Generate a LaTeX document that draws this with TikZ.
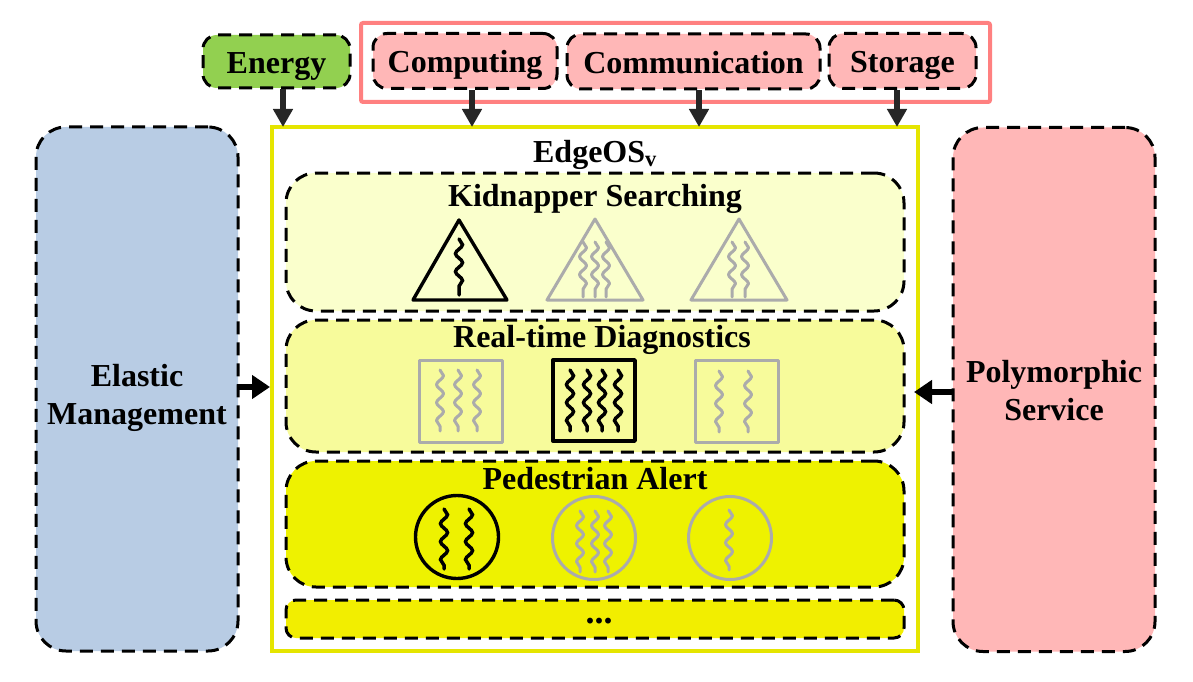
\documentclass[tikz,border=0pt]{standalone}
\usepackage{fontspec}
\setmainfont{Liberation Serif}
\usepackage{tikz}
\usetikzlibrary{arrows.meta, positioning, calc, decorations.pathmorphing}

\definecolor{energygreen}{HTML}{92D050}
\definecolor{respink}{HTML}{FFB7B7}
\definecolor{resred}{HTML}{FF8080}
\definecolor{elasticblue}{HTML}{B8CCE4}
\definecolor{osyellow}{HTML}{E5E500}
\definecolor{panelA}{HTML}{FAFFCC}
\definecolor{panelB}{HTML}{F7FB9B}
\definecolor{panelC}{HTML}{EEF200}
\definecolor{panelD}{HTML}{F2EE00}
\definecolor{taskgrey}{HTML}{ABABAB}
\definecolor{arrowdark}{HTML}{262626}

\begin{document}
\begin{tikzpicture}[
    x=1pt, y=-1pt,
    every node/.style={font=\fontsize{32}{36}\selectfont\bfseries, align=center, inner sep=0pt},
    caption/.style={text height=31pt, text depth=7pt},
    dashbox/.style={draw, rounded corners=#1, line width=3pt, dash pattern=on 13pt off 8pt},
    dashbox/.default=14pt,
    resource/.style={dashbox, fill=respink, caption},
    side/.style={dashbox=30pt, minimum width=202pt, minimum height=524pt},
    panel/.style={dashbox=30pt, minimum width=618pt},
    link/.style={draw=arrowdark, line width=6pt, shorten >=-2pt, -{Triangle[length=18pt, width=19pt]}},
    sidelink/.style={draw=black, line width=5.5pt, -{Triangle[length=18pt, width=23pt]}},
    taskblack/.style={draw=black, line width=3.4pt, line join=round},
    taskgrey/.style={draw=taskgrey, line width=3pt, line join=round},
    thread/.style={line width=3.5pt, line cap=round, decorate,
        decoration={snake, segment length=18pt, amplitude=3.5pt}}
]
    \useasboundingbox (0,0) rectangle (1193,682);

    % top row
    \node[draw=resred, line width=4pt, rounded corners=2pt, minimum width=629pt, minimum height=79pt] (res) at (675.5,62.5) {};
    \node[dashbox, fill=energygreen, caption, minimum width=147pt, minimum height=53pt] (energy) at (276.5,61.5) {Energy};
    \node[resource, minimum width=184pt, minimum height=55pt] (comp) at (465,61) {Computing};
    \node[resource, minimum width=253pt, minimum height=55pt] (comm) at (693.5,61.5) {Communication};
    \node[resource, minimum width=147pt, minimum height=55pt] (stor) at (902.5,61) {Storage};

    % side blocks
    \node[side, fill=elasticblue] (elastic) at (137,389) {};
    \node[side, fill=respink] (poly) at (1054,389.5) {};
    \node (elastictext) at (137,398) {Elastic\\[2pt]Management};
    \node (polytext) at (1054,390.5) {Polymorphic\\[2pt]Service};

    % EdgeOS box and its panels
    \node[draw=osyellow, line width=4pt, minimum width=646pt, minimum height=524pt] (os) at (595,389) {};
    \node[caption] (ostitle) at (595,150.5) {EdgeOS\textsubscript{v}};
    \node[panel, fill=panelA, minimum height=138pt] (kid) at (595,242) {};
    \node[panel, fill=panelB, minimum height=132pt] (diag) at (595,386) {};
    \node[panel, fill=panelC, minimum height=126pt] (ped) at (595,524) {};
    \node[panel, fill=panelD, minimum height=38pt, dashbox=10pt] (more) at (595,619) {};
    \node[caption] (kidtitle) at (595,194.5) {Kidnapper Searching};
    \node[caption] (diagtitle) at (602,335.5) {Real-time Diagnostics};
    \node[caption] (pedtitle) at (595,477.5) {Pedestrian Alert};
    \node[caption, font=\fontsize{36}{40}\selectfont\bfseries] (dots) at (599,611) {...};

    % triangles
    \draw[taskblack] (459,220) -- (507,300) -- (413,300) -- cycle;
    \draw[taskgrey] (595,219) -- (643,300) -- (547,300) -- cycle;
    \draw[taskgrey] (739,219) -- (787,300) -- (691,300) -- cycle;
    \draw[thread, black] (459,239) -- (459,295);
    \foreach \x in {583,595,606} \draw[thread, taskgrey] (\x,242) -- (\x,297);
    \foreach \x in {732,745} \draw[thread, taskgrey] (\x,242) -- (\x,297);

    % squares
    \draw[taskgrey] (419,360) rectangle (502,442);
    \draw[taskblack] (553,360) rectangle (635,441);
    \draw[taskgrey] (695,360) rectangle (778,442);
    \foreach \x in {440,458,477} \draw[thread, taskgrey] (\x,370) -- (\x,431);
    \foreach \x in {570,587,602,618} \draw[thread, black] (\x,370) -- (\x,431);
    \foreach \x in {719,748} \draw[thread, taskgrey] (\x,371) -- (\x,432);

    % circles
    \draw[taskblack] (457,537) circle (41.5);
    \draw[taskgrey] (594,538) circle (41.5);
    \draw[taskgrey] (730,538) circle (41.5);
    \foreach \x in {444,469} \draw[thread, black] (\x,509) -- (\x,569);
    \foreach \x in {580,595,608} \draw[thread, taskgrey] (\x,511) -- (\x,572);
    \draw[thread, taskgrey] (729,510) -- (729,570);

    % arrows
    \draw[link] ([xshift=6.5pt]energy.south) -- ([xshift=6.5pt]energy.south |- os.north);
    \draw[link] ([xshift=7pt]comp.south) -- ([xshift=7pt]comp.south |- os.north);
    \draw[link] ([xshift=5.5pt]comm.south) -- ([xshift=5.5pt]comm.south |- os.north);
    \draw[link] ([xshift=-5.5pt]stor.south) -- ([xshift=-5.5pt]stor.south |- os.north);
    \draw[sidelink, shorten <=-3pt] ([yshift=2pt]elastic.east) -- ([yshift=2pt]elastic.east -| os.west);
    \draw[sidelink, shorten >=-6pt] ([yshift=-2.5pt]poly.west) -- ([yshift=-2.5pt]poly.west -| os.east);
\end{tikzpicture}
\end{document}
